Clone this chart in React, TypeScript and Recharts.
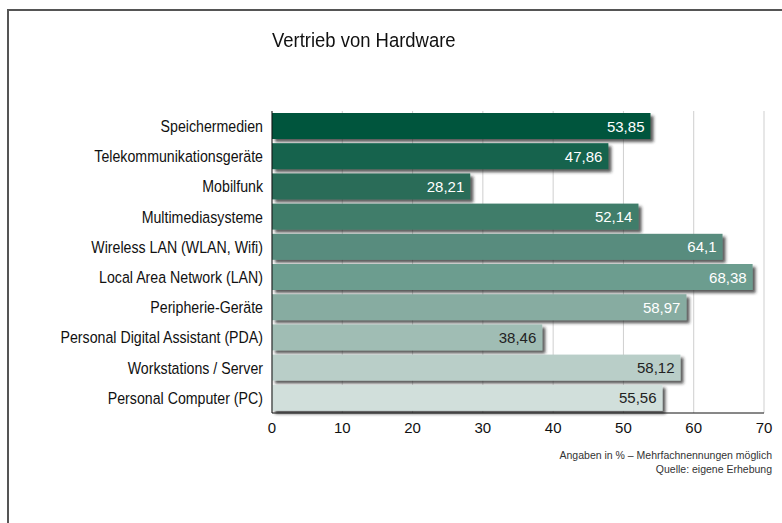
import { Bar, BarChart, CartesianGrid, Cell, LabelList, XAxis, YAxis } from "recharts";

const categories = [
  "Speichermedien",
  "Telekommunikationsgeräte",
  "Mobilfunk",
  "Multimediasysteme",
  "Wireless LAN (WLAN, Wifi)",
  "Local Area Network (LAN)",
  "Peripherie-Geräte",
  "Personal Digital Assistant (PDA)",
  "Workstations / Server",
  "Personal Computer (PC)",
];
const values = [53.85, 47.86, 28.21, 52.14, 64.1, 68.38, 58.97, 38.46, 58.12, 55.56];
const barColors = [
  "#00543c",
  "#15634d",
  "#2c6c58",
  "#3f7d6b",
  "#588c7e",
  "#6c9d8f",
  "#87aca1",
  "#a0bdb4",
  "#b9cec8",
  "#d1dfdb",
];
const labelColors = ["#fff", "#fff", "#fff", "#fff", "#fff", "#fff", "#fff", "#222", "#222", "#222"];
const ticks = [0, 10, 20, 30, 40, 50, 60, 70];

const data = categories.map((name, i) => ({ name, value: values[i] }));

const sans = "'Liberation Sans', Arial, sans-serif";

function ShadowBar(props: any) {
  const { x, y, width, height, fill } = props;
  return <rect x={x} y={y} width={width} height={height} fill={fill} filter="url(#barShadow)" />;
}

function ValueLabel(props: any) {
  const { x, y, width, height, value, index } = props;
  return (
    <text
      x={x + width - 6}
      y={y + height / 2}
      textAnchor="end"
      dominantBaseline="central"
      fill={labelColors[index]}
      fontSize={15}
      fontFamily={sans}
    >
      {String(value).replace(".", ",")}
    </text>
  );
}

// narrow look: taller glyphs squeezed horizontally
function CategoryTick(props: any) {
  const { x, y, payload } = props;
  return (
    <text
      transform={`translate(${x - 1},${y}) scale(0.86,1)`}
      textAnchor="end"
      dominantBaseline="central"
      fill="#111"
      fontSize={16.5}
      fontFamily={sans}
    >
      {payload.value}
    </text>
  );
}

export default function App() {
  return (
    <div
      style={{
        position: "fixed",
        left: 0,
        top: 0,
        width: 782,
        height: 523,
        background: "#fff",
        overflow: "hidden",
      }}
    >
      <style>{"html,body{margin:0;overflow:hidden}"}</style>
      <div
        style={{
          position: "absolute",
          left: 7,
          top: 9,
          width: 800,
          height: 540,
          borderLeft: "2px solid #555",
          borderTop: "2px solid #555",
        }}
      />
      <div
        style={{
          position: "absolute",
          left: 272,
          top: 30,
          fontFamily: sans,
          fontSize: 20.5,
          lineHeight: "20.5px",
          color: "#111",
          transform: "scaleX(0.9)",
          transformOrigin: "left center",
          whiteSpace: "nowrap",
        }}
      >
        Vertrieb von Hardware
      </div>
      <div style={{ position: "absolute", top: 8, left: 8 }}>
        <BarChart
          width={774}
          height={440}
          data={data}
          layout="vertical"
          margin={{ top: 103, right: 18, bottom: 10, left: 0 }}
          barSize={26}
        >
          <defs>
            <filter id="barShadow" x="-5%" y="-20%" width="115%" height="160%">
              <feDropShadow dx={3} dy={3} stdDeviation={1.4} floodColor="#222" floodOpacity={0.75} />
            </filter>
          </defs>
          <CartesianGrid horizontal={false} stroke="#cfcfcf" />
          <XAxis
            type="number"
            domain={[0, 70]}
            ticks={ticks}
            height={25}
            tickLine={false}
            axisLine={{ stroke: "#111" }}
            tick={{ fill: "#111", fontSize: 15, fontFamily: sans }}
            tickMargin={3}
          />
          <YAxis
            type="category"
            dataKey="name"
            width={264}
            tickLine={false}
            axisLine={{ stroke: "#111" }}
            tick={CategoryTick}
            interval={0}
          />
          <Bar dataKey="value" isAnimationActive={false} shape={ShadowBar}>
            {data.map((d, i) => (
              <Cell key={d.name} fill={barColors[i]} />
            ))}
            <LabelList dataKey="value" content={ValueLabel} />
          </Bar>
        </BarChart>
      </div>
      <div
        style={{
          position: "absolute",
          right: 10,
          top: 448,
          textAlign: "right",
          fontFamily: sans,
          fontSize: 10.5,
          lineHeight: "14px",
          color: "#333",
          whiteSpace: "nowrap",
        }}
      >
        Angaben in % – Mehrfachnennungen möglich
        <br />
        Quelle: eigene Erhebung
      </div>
    </div>
  );
}
